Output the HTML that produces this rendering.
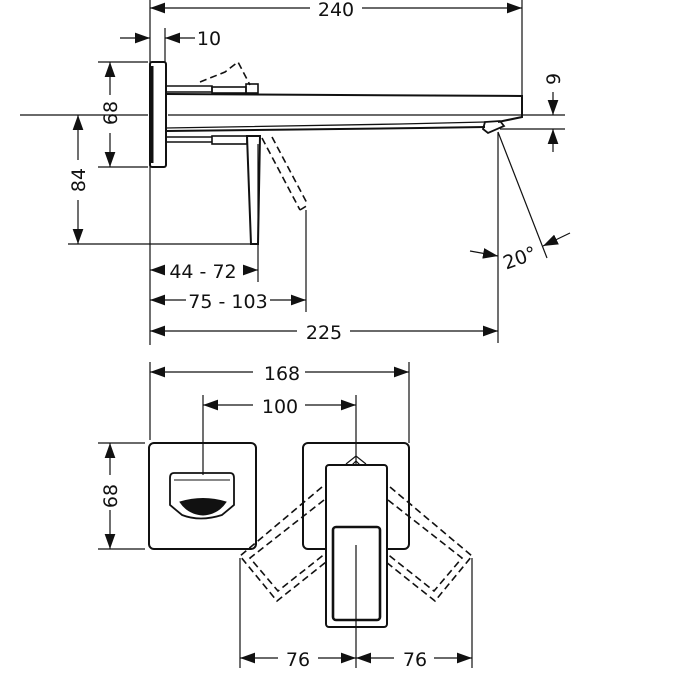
<!DOCTYPE html>
<html><head><meta charset="utf-8"><style>
html,body{margin:0;padding:0;background:#fff;}
svg{display:block;}
text{font-family:"DejaVu Sans","Liberation Sans",sans-serif;font-size:19px;fill:#111;text-anchor:middle;}
</style></head><body>
<svg width="674" height="675" viewBox="0 0 674 675" xmlns="http://www.w3.org/2000/svg">
<defs>
<marker id="a" viewBox="0 0 14 10" refX="14" refY="5" markerWidth="15" markerHeight="11" markerUnits="userSpaceOnUse" orient="auto-start-reverse">
<path d="M0,0 L14,5 L0,10 Z" fill="#111"/></marker>
</defs>
<g stroke="#111" stroke-width="1.2" fill="none">
<line x1="150" y1="0" x2="150" y2="345"/>
<line x1="522" y1="0" x2="522" y2="98"/>
<line x1="165" y1="28" x2="165" y2="62"/>
<line x1="258" y1="144" x2="258" y2="282"/>
<line x1="306" y1="210" x2="306" y2="312"/>
<line x1="498" y1="132" x2="498" y2="343"/>
<line x1="20" y1="115" x2="148" y2="115"/>
<line x1="168" y1="115" x2="500" y2="115"/>
<line x1="500" y1="115" x2="565" y2="115"/>
<line x1="500" y1="129" x2="565" y2="129"/>
<line x1="98" y1="62" x2="148" y2="62"/>
<line x1="98" y1="167" x2="148" y2="167"/>
<line x1="68" y1="244" x2="255" y2="244"/>
<line x1="150" y1="8" x2="310" y2="8" marker-start="url(#a)"/>
<line x1="362" y1="8" x2="522" y2="8" marker-end="url(#a)"/>
<line x1="120" y1="38" x2="150" y2="38" marker-end="url(#a)"/>
<line x1="195" y1="38" x2="165" y2="38" marker-end="url(#a)"/>
<line x1="110" y1="62" x2="110" y2="95" marker-start="url(#a)"/>
<line x1="110" y1="133" x2="110" y2="167" marker-end="url(#a)"/>
<line x1="78" y1="115" x2="78" y2="160" marker-start="url(#a)"/>
<line x1="78" y1="200" x2="78" y2="244" marker-end="url(#a)"/>
<line x1="553" y1="92" x2="553" y2="115" marker-end="url(#a)"/>
<line x1="553" y1="152" x2="553" y2="129" marker-end="url(#a)"/>
<line x1="150" y1="270" x2="160" y2="270" marker-start="url(#a)"/>
<line x1="246" y1="270" x2="258" y2="270" marker-end="url(#a)"/>
<line x1="150" y1="300" x2="186" y2="300" marker-start="url(#a)"/>
<line x1="270" y1="300" x2="306" y2="300" marker-end="url(#a)"/>
<line x1="150" y1="331" x2="297" y2="331" marker-start="url(#a)"/>
<line x1="350" y1="331" x2="498" y2="331" marker-end="url(#a)"/>
<line x1="498" y1="132" x2="547" y2="258"/>
<line x1="470" y1="251" x2="498" y2="256" marker-end="url(#a)"/>
<line x1="570" y1="233" x2="543" y2="246" marker-end="url(#a)"/>
</g>
<g stroke="#111" fill="none">
<rect x="150" y="62" width="16" height="105" rx="2" stroke-width="2"/>
<line x1="152" y1="66" x2="152" y2="163" stroke-width="3"/>
<path d="M166,86 L212,86 L212,92 M166,92 L212,92" stroke-width="1.6"/>
<rect x="212" y="87" width="34" height="6" stroke-width="1.6"/>
<rect x="246" y="84" width="12" height="9" stroke-width="1.6"/>
<path d="M166,94 L522,96 L522,117 L498,122" stroke-width="2"/>
<path d="M166,128 L400,124 L485,122" stroke-width="1.3"/>
<path d="M166,131 L420,128 L485,127" stroke-width="2"/>
<path d="M485,122 L500,121 L504,126 L488,133 L483,129 Z" stroke-width="1.8"/>
<path d="M166,137 L212,137 M166,142 L212,142" stroke-width="1.6"/>
<rect x="212" y="136" width="35" height="8" stroke-width="1.6"/>
<path d="M247,136 L260,136 L258,244 L251,244 Z" stroke-width="2"/>
<path d="M200,82 L225,72 L238,62 L250,85" stroke-width="1.6" stroke-dasharray="7,4"/>
<path d="M262,138 L300,210 M272,137 L308,205 M300,210 L308,205" stroke-width="1.6" stroke-dasharray="7,4"/>
</g>
<text x="336" y="16">240</text>
<text x="209" y="45">10</text>
<text x="203" y="278">44 - 72</text>
<text x="228" y="308">75 - 103</text>
<text x="324" y="339">225</text>
<text transform="translate(117,113) rotate(-90)">68</text>
<text transform="translate(85,180) rotate(-90)">84</text>
<text transform="translate(560,79) rotate(-90)">9</text>
<text transform="translate(522,264) rotate(-20)">20°</text>
<g stroke="#111" stroke-width="1.2" fill="none">
<line x1="150" y1="362" x2="150" y2="440"/>
<line x1="409" y1="362" x2="409" y2="443"/>
<line x1="203" y1="395" x2="203" y2="475"/>
<line x1="356" y1="395" x2="356" y2="465"/>
<line x1="356" y1="545" x2="356" y2="668"/>
<line x1="240" y1="558" x2="240" y2="668"/>
<line x1="472" y1="558" x2="472" y2="668"/>
<line x1="98" y1="443" x2="145" y2="443"/>
<line x1="98" y1="549" x2="145" y2="549"/>
<line x1="150" y1="372" x2="253" y2="372" marker-start="url(#a)"/>
<line x1="305" y1="372" x2="409" y2="372" marker-end="url(#a)"/>
<line x1="203" y1="405" x2="253" y2="405" marker-start="url(#a)"/>
<line x1="305" y1="405" x2="356" y2="405" marker-end="url(#a)"/>
<line x1="110" y1="443" x2="110" y2="475" marker-start="url(#a)"/>
<line x1="110" y1="510" x2="110" y2="549" marker-end="url(#a)"/>
<line x1="240" y1="658" x2="278" y2="658" marker-start="url(#a)"/>
<line x1="318" y1="658" x2="356" y2="658" marker-end="url(#a)"/>
<line x1="356" y1="658" x2="394" y2="658" marker-start="url(#a)"/>
<line x1="434" y1="658" x2="472" y2="658" marker-end="url(#a)"/>
</g>
<text x="282" y="380">168</text>
<text x="280" y="413">100</text>
<text x="298" y="666">76</text>
<text x="415" y="666">76</text>
<text transform="translate(117,496) rotate(-90)">68</text>
<g stroke="#111" fill="none">
<rect x="149" y="443" width="107" height="106" rx="5" stroke-width="2"/>
<path d="M174,473 L230,473 Q234,473 234,478 L234,505 L222,515 Q200,522 182,515 L170,505 L170,478 Q170,473 174,473 Z" stroke-width="1.8"/>
<line x1="174" y1="480" x2="230" y2="480" stroke-width="1"/>
<path d="M180,502 Q203,495 226,502 Q218,514 203,515 Q188,514 180,502 Z" fill="#111" stroke-width="1"/>
<rect x="303" y="443" width="106" height="106" rx="5" stroke-width="2"/>
<g stroke-width="1.6" stroke-dasharray="7,4">
<path d="M322,487 L240,556 L277,601 L326,562"/>
<path d="M324,500 L250,558 L278,591 L326,553"/>
<path d="M390,487 L472,556 L435,601 L386,562"/>
<path d="M388,500 L462,558 L434,591 L386,553"/>
</g>
<path d="M346,464 L356,456 L366,464 M350,467 L356,461 L362,467" stroke-width="1.2"/>
<rect x="326" y="465" width="61" height="162" rx="3" fill="#fff" stroke-width="2"/>
<rect x="333" y="527" width="47" height="93" rx="3" stroke-width="2.6"/>
<line x1="356" y1="545" x2="356" y2="627" stroke-width="1.2"/>
</g>
</svg>
</body></html>
